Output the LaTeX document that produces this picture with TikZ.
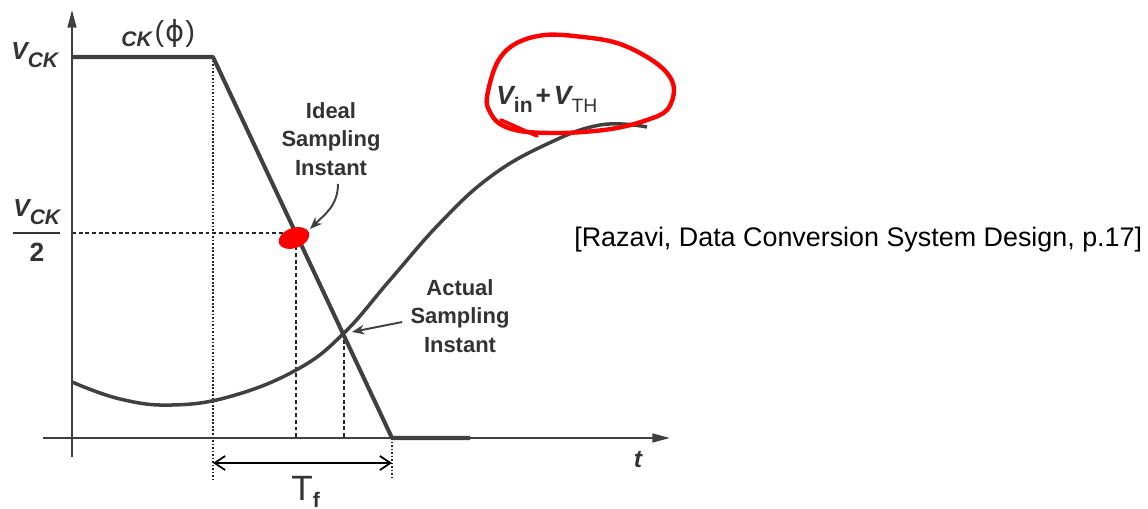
\documentclass[tikz,border=0pt]{standalone}
\usepackage{fontspec}
\setmainfont{Liberation Sans}
\newfontfamily\symfont{DejaVu Sans}
\usetikzlibrary{arrows.meta}

\newcommand{\vck}{{\fontsize{14}{14}\selectfont\bfseries\itshape V\raisebox{-4.5pt}{\fontsize{12}{12}\selectfont CK}}}
\newcommand{\vinth}{{\fontsize{15}{15}\selectfont\bfseries\itshape V}\raisebox{-4pt}{\fontsize{12}{12}\selectfont\bfseries in}\,{\fontsize{15}{15}\selectfont\bfseries +}\,{\fontsize{15}{15}\selectfont\bfseries\itshape V}\raisebox{-4pt}{\fontsize{11}{11}\selectfont TH}}

\begin{document}
\begin{tikzpicture}[x=0.02cm, y=-0.02cm,
	every node/.style={inner sep=0pt, text=black!80},
	axisline/.style={draw=black!75, line width=1.1pt, -{Triangle[length=10pt,width=5pt]}},
	wave/.style={draw=black!75, line width=2.3pt, line join=round},
	dotline/.style={draw=black!85, line width=0.8pt, dash pattern=on 1pt off 1pt},
	dashline/.style={draw=black!85, line width=0.8pt, dash pattern=on 2.2pt off 1.6pt},
	ptr/.style={draw=black!75, line width=1.1pt, -{Stealth[length=7pt,width=5.5pt]}},
	dim/.style={draw=black, line width=1pt, {Straight Barb[length=6pt,width=8pt]}-{Straight Barb[length=6pt,width=8pt]}},
	lbl/.style={font=\fontsize{12.5}{16.2}\selectfont\bfseries, align=center},
	scribble/.style={draw=red, line width=2.5pt, line cap=round, line join=round}]

	\useasboundingbox (0,0) rectangle (1148,509);
	\coordinate (o) at (72,438);
	\coordinate (fall) at (213,57);
	\coordinate (low) at (392,438);
	\coordinate (ideal) at (296,233);
	\coordinate (actual) at (344,333);

	\draw[dotline] (fall) -- (fall |- 0,480);
	\draw[dotline] (low) -- (low |- 0,480);
	\draw[dashline] (o |- ideal) -- (ideal);
	\foreach \p in {ideal,actual}
		\draw[dashline] (\p) -- (\p |- o);

	\draw[axisline] (72,457) -- (72,10);
	\draw[axisline] (43,438) -- (670,438);

	\draw[wave] (72,57) -- (fall) -- (low) -- (470,438);
	\draw[wave, line width=2pt] plot[smooth, tension=0.7] coordinates {(72,382) (120,399) (172,405) (232,396) (298,369) (344,333) (390,280) (440,223) (490,177) (545,145) (600,125) (647,127)};

	\draw[dim] (fall |- 0,463) -- (low |- 0,463);

	\node[anchor=base west] (vcktop) at (11,60) {\vck};
	\node[anchor=base west] (vcknum) at (13,217) {\vck};
	\draw[draw=black!80, line width=1.1pt] (13,233) -- (60,233);
	\node[anchor=base, font=\fontsize{15}{15}\selectfont\bfseries] (two) at (37,262) {2};
	\node[anchor=base west] (cklbl) at (121,47) {{\fontsize{12}{12}\selectfont\bfseries\itshape CK}\,\raisebox{3pt}{\fontsize{16.5}{16.5}\selectfont(\kern0.5pt{\symfont ϕ}\kern0.5pt)}};
	\node[anchor=base west] (vin) at (496,105) {\vinth};
	\node[anchor=base, font=\fontsize{14}{14}\selectfont\bfseries\itshape] (tlbl) at (638,467) {t};
	\node[anchor=base west] (tf) at (291,500) {{\fontsize{20}{20}\selectfont T}\raisebox{-4pt}{\fontsize{12}{12}\selectfont\bfseries f}};
	\node[anchor=base west, font=\fontsize{15.3}{15.3}\selectfont, text=black] (cite) at (574,247) {[Razavi, Data Conversion System Design, p.17]};

	\node[lbl] (idlbl) at (331,139) {Ideal\\Sampling\\Instant};
	\node[lbl] (aclbl) at (460,316) {Actual\\Sampling\\Instant};
	\draw[ptr] ([shift={(7,8)}]idlbl.south) .. controls +(0,22) and +(14,-14) .. ([shift={(14,-4)}]ideal);
	\draw[ptr] ([shift={(-8,6)}]aclbl.west) -- ([shift={(8,-1)}]actual);

	\fill[red, rotate around={20:(294,238)}] (294,238) ellipse (16 and 10);
	\draw[scribble] plot[smooth cycle, tension=0.6] coordinates {(487,97) (497,63) (515,44) (545,35) (583,37) (617,43) (647,57) (667,73) (674,90) (667,110) (647,120) (617,128) (583,132) (550,133) (520,131) (500,124) (490,112)};
	\draw[scribble, line width=2pt] (501,120) -- (537,136);
\end{tikzpicture}
\end{document}
